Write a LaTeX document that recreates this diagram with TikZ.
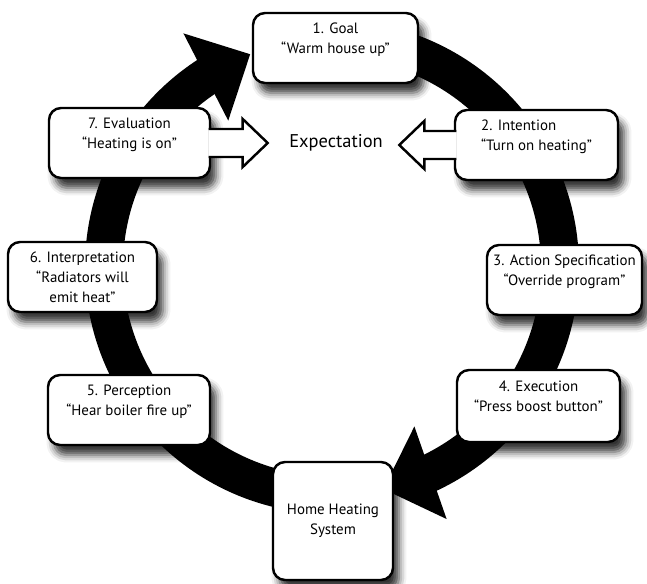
\documentclass[tikz,border=0pt]{standalone}
\usepackage{fontspec}
\setmainfont{PT Sans}
\usetikzlibrary{arrows.meta,bending,shadows.blur}

\tikzset{
  stepbox/.style={draw, line width=1.4pt, rounded corners=0.24cm, fill=white,
    align=center, minimum height=1.4cm, inner sep=2pt,
    font=\fontsize{8.5}{11.5}\selectfont,
    blur shadow={shadow xshift=0.12cm, shadow yshift=-0.2cm,
      shadow blur radius=0.15cm, shadow opacity=80}},
  ring/.style={line width=0.76cm, color=black,
    -{Triangle[length=1cm,width=1.9cm,flex]}},
  hollow/.style={draw, line width=1.4pt, fill=white, line join=miter},
}

\begin{document}
\begin{tikzpicture}[x=0.02cm,y=0.02cm]
  \useasboundingbox (0,0) rectangle (647,583);
  \coordinate (c) at (332,316);

  % Cycle ring
  \draw[ring] (c) ++(270:228) arc[start angle=270, end angle=111, radius=228];
  \draw[ring] (c) ++(90:228) arc[start angle=90, end angle=-77, radius=228];

  % Define nodes
  \node[font=\fontsize{10.5}{13}\selectfont] (expect) at (336,440) {Expectation};
  \node[stepbox, minimum width=3.3cm]  (goal) at (335.5,535) {1. Goal\\“Warm house up”\\\mbox{}};
  \node[stepbox, minimum width=3.26cm, align=left] (intent) at (536.5,438) {2. Intention\\“Turn on heating”\\\mbox{}};
  \node[stepbox, minimum width=3.1cm]  (action) at (564.5,303) {3. Action Specification\\“Override program”\\\mbox{}};
  \node[stepbox, minimum width=3.26cm, minimum height=1.44cm] (exec) at (538.5,177) {4. Execution\\“Press boost button”\\\mbox{}};
  \node[stepbox, minimum width=3.24cm] (percep) at (129,173) {5. Perception\\“Hear boiler fire up”\\\mbox{}};
  \node[stepbox, minimum width=2.98cm] (interp) at (82.5,306) {6. Interpretation\\“Radiators will\\emit heat”};
  \node[stepbox, minimum width=3.22cm] (eval) at (129.5,440) {7. Evaluation\\“Heating is on”\\\mbox{}};
  \node[stepbox, minimum width=2.4cm, minimum height=2.36cm] (home) at (333,62) {Home Heating\\System};

  % Hollow arrows into the expectation
  \draw[hollow] ([xshift=-0.05cm,yshift=0.28cm]eval.east) -- ++(34,0) -- ++(0,10)
    -- ++(25,-24) -- ++(-25,-24) -- ++(0,10) -- ([xshift=-0.05cm,yshift=-0.28cm]eval.east);
  \draw[hollow] ([xshift=0.05cm,yshift=0.28cm]intent.west) -- ++(-32,0) -- ++(0,10)
    -- ++(-25,-24) -- ++(25,-24) -- ++(0,10) -- ([xshift=0.05cm,yshift=-0.28cm]intent.west);

\end{tikzpicture}
\end{document}
